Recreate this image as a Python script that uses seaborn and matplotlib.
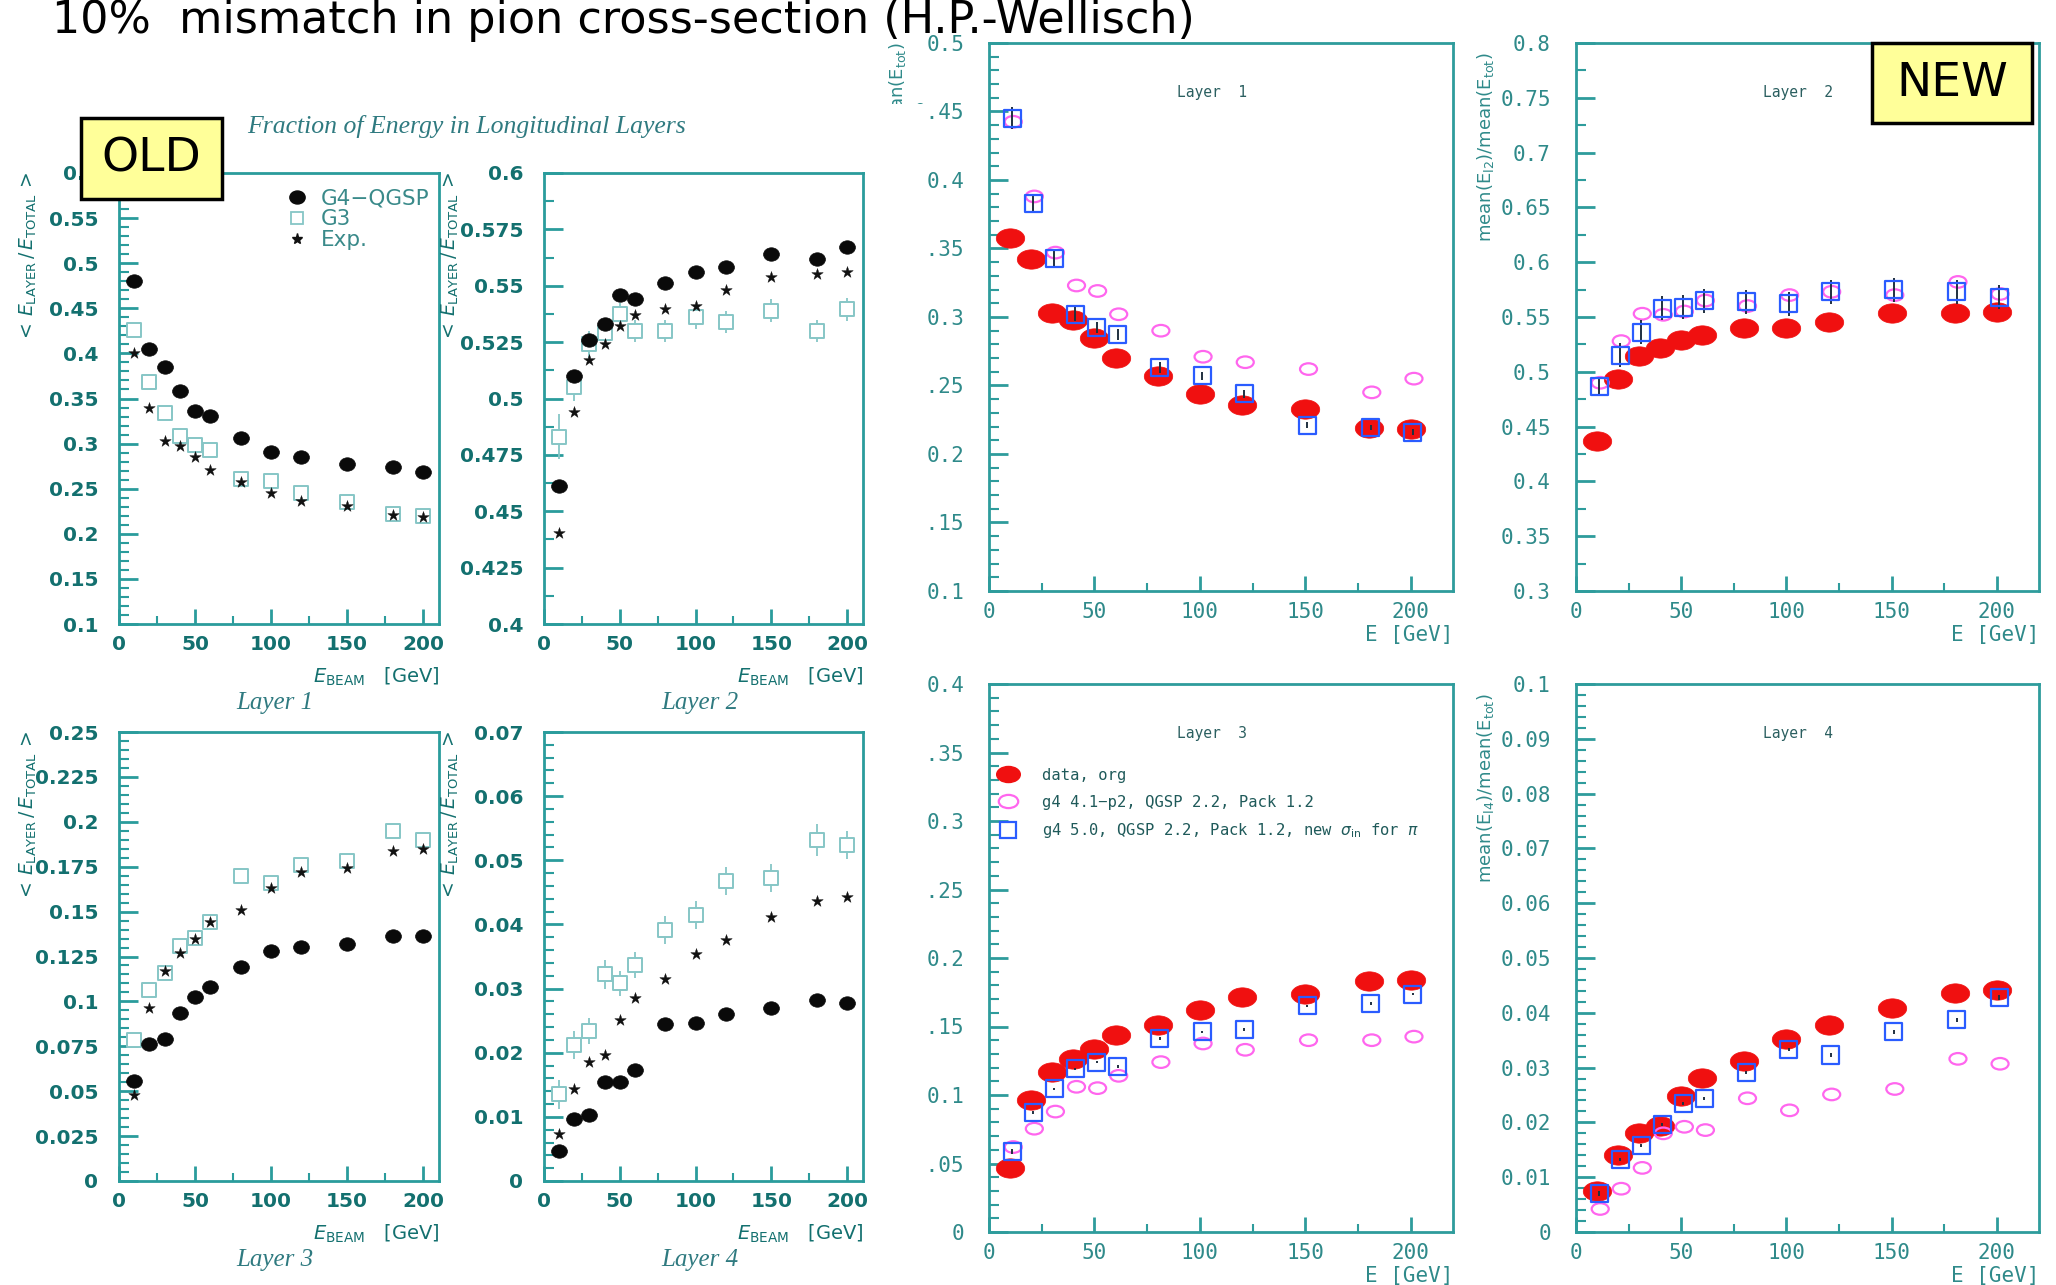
import numpy as np
import pandas as pd
import matplotlib
matplotlib.use("Agg")
import matplotlib.pyplot as plt
import seaborn as sns
from matplotlib.path import Path
from matplotlib.patches import Rectangle
from matplotlib.lines import Line2D
from matplotlib.ticker import MultipleLocator, FuncFormatter
from matplotlib.transforms import Affine2D

# ---------------- data ----------------
energy = [10, 20, 30, 40, 50, 60, 80, 100, 120, 150, 180, 200]

# OLD : fraction of energy in longitudinal layers
old_l1_g4 = [0.480, 0.405, 0.385, 0.358, 0.336, 0.331, 0.306, 0.291, 0.285, 0.277, 0.274, 0.269]
old_l1_g3 = [0.426, 0.368, 0.334, 0.308, 0.298, 0.293, 0.261, 0.258, 0.245, 0.235, 0.222, 0.220]
old_l1_exp = [0.400, 0.340, 0.303, 0.297, 0.285, 0.271, 0.257, 0.245, 0.236, 0.231, 0.221, 0.219]
old_l1_g3_err = [0.006, 0.003, 0.003, 0.003, 0.003, 0.003, 0.003, 0.003, 0.003, 0.003, 0.003, 0.003]

old_l2_g4 = [0.461, 0.510, 0.526, 0.533, 0.546, 0.544, 0.551, 0.556, 0.5585, 0.564, 0.562, 0.567]
old_l2_g3 = [0.483, 0.505, 0.524, 0.529, 0.5375, 0.530, 0.530, 0.536, 0.534, 0.539, 0.530, 0.5395]
old_l2_exp = [0.4405, 0.494, 0.517, 0.524, 0.532, 0.537, 0.5395, 0.541, 0.548, 0.554, 0.555, 0.556]
old_l2_g3_err = [0.010, 0.006, 0.006, 0.005, 0.005, 0.005, 0.005, 0.005, 0.005, 0.005, 0.005, 0.005]

old_l3_g4 = [0.0556, 0.0763, 0.0788, 0.0934, 0.1027, 0.1079, 0.1189, 0.1282, 0.1303, 0.132, 0.1365, 0.1365]
old_l3_g3 = [0.0784, 0.1064, 0.1158, 0.131, 0.1355, 0.144, 0.170, 0.166, 0.176, 0.178, 0.195, 0.190]
old_l3_exp = [0.0477, 0.0965, 0.1168, 0.127, 0.135, 0.144, 0.151, 0.163, 0.172, 0.174, 0.1836, 0.1846]
old_l3_g3_err = [0.004, 0.003, 0.003, 0.003, 0.003, 0.003, 0.003, 0.003, 0.003, 0.003, 0.003, 0.003]

old_l4_g4 = [0.00465, 0.0097, 0.0103, 0.0154, 0.0154, 0.0173, 0.0244, 0.0246, 0.0261, 0.0270, 0.0282, 0.0278]
old_l4_g3 = [0.0135, 0.0212, 0.0234, 0.0322, 0.0308, 0.0337, 0.0391, 0.0415, 0.0468, 0.0472, 0.0532, 0.0524]
old_l4_exp = [0.0074, 0.0144, 0.0185, 0.0196, 0.0251, 0.0285, 0.0315, 0.0354, 0.0376, 0.0411, 0.0436, 0.0443]
old_l4_g3_err = [0.0022, 0.0022, 0.0020, 0.0022, 0.0020, 0.0020, 0.0022, 0.0022, 0.0022, 0.0022, 0.0025, 0.0022]

old_series = ["G4\u2212QGSP", "G3", "Exp."]

# NEW : mean(E_layer)/mean(E_tot)
new_l1_data = [0.358, 0.342, 0.303, 0.298, 0.285, 0.270, 0.257, 0.244, 0.236, 0.233, 0.219, 0.218]
new_l1_g41 = [0.4425, 0.388, 0.347, 0.323, 0.319, 0.302, 0.290, 0.271, 0.267, 0.262, 0.245, 0.255]
new_l1_g50 = [0.445, 0.383, 0.343, 0.302, 0.292, 0.287, 0.263, 0.257, 0.244, 0.221, 0.2195, 0.216]
new_l1_g50_err = [0.008, 0.006, 0.006, 0.005, 0.004, 0.004, 0.004, 0.003, 0.003, 0.002, 0.002, 0.002]

new_l2_data = [0.437, 0.4935, 0.514, 0.522, 0.529, 0.534, 0.540, 0.540, 0.545, 0.554, 0.554, 0.555]
new_l2_g41 = [0.490, 0.528, 0.553, 0.552, 0.555, 0.565, 0.560, 0.570, 0.573, 0.570, 0.582, 0.571]
new_l2_g50 = [0.487, 0.515, 0.536, 0.558, 0.559, 0.565, 0.564, 0.562, 0.573, 0.575, 0.573, 0.568]
new_l2_g50_err = [0.008, 0.011, 0.011, 0.011, 0.011, 0.011, 0.011, 0.011, 0.011, 0.011, 0.011, 0.011]

new_l3_data = [0.0465, 0.0967, 0.117, 0.1266, 0.1337, 0.1435, 0.151, 0.162, 0.1716, 0.1737, 0.183, 0.184]
new_l3_g41 = [0.062, 0.0754, 0.0879, 0.106, 0.105, 0.114, 0.124, 0.1376, 0.133, 0.140, 0.140, 0.1426]
new_l3_g50 = [0.0586, 0.0873, 0.1044, 0.119, 0.124, 0.121, 0.141, 0.146, 0.148, 0.165, 0.167, 0.1737]
new_l3_g50_err = [0.002, 0.001, 0.001, 0.001, 0.001, 0.001, 0.001, 0.001, 0.001, 0.001, 0.001, 0.001]

new_l4_data = [0.0074, 0.0141, 0.0181, 0.0194, 0.0249, 0.0281, 0.0312, 0.0353, 0.0377, 0.0408, 0.0436, 0.0442]
new_l4_g41 = [0.0042, 0.0079, 0.0117, 0.0180, 0.0192, 0.0186, 0.0244, 0.0222, 0.0251, 0.0261, 0.0316, 0.0307]
new_l4_g50 = [0.0070, 0.0132, 0.0158, 0.0196, 0.0234, 0.0244, 0.0291, 0.0333, 0.0323, 0.0365, 0.0387, 0.0428]
new_l4_g50_err = [0.0005, 0.0003, 0.0003, 0.0003, 0.0003, 0.0003, 0.0003, 0.0003, 0.0003, 0.0003, 0.0004, 0.0004]

new_series = ["data, org", "g4 4.1\u2212p2, QGSP 2.2, Pack 1.2",
              "g4 5.0, QGSP 2.2, Pack 1.2, new $\\sigma_{\\rm in}$ for $\\pi$"]

title = "10%  mismatch in pion cross-section (H.P.-Wellisch)"

# ---------------- style ----------------
sns.set_theme(style="white")
plt.rcParams["font.family"] = ["DejaVu Sans"]
plt.rcParams["mathtext.fontset"] = "dejavusans"

W, H = 2056, 1285
fig = plt.figure(figsize=(W / 100, H / 100), dpi=100)
fig.patch.set_facecolor("white")

OLD_FRAME = "#2a9c9c"
OLD_TXT = "#13706f"
OLD_LIGHT = "#86c6c6"
NEW_FRAME = "#2e9c9c"
NEW_TXT = "#2f8a8a"
RED = "#f01010"
MAG = "#ff66ee"
BLUE = "#2a5cff"
MONO = ["DejaVu Sans Mono", "DejaVu Sans"]

ell = Path.unit_circle()
ellipse_marker = Path(ell.vertices * np.array([1.0, 0.68]), ell.codes)
dot_marker = ellipse_marker.transformed(Affine2D().scale(1.0, 1.25))
fmt = FuncFormatter(lambda v, p: f"{v:g}")


def px_axes(l, t, r, b, z):
    ax = fig.add_axes([l / W, 1 - b / H, (r - l) / W, (b - t) / H])
    ax.set_zorder(z)
    return ax


def style_axes(ax, xlim, ylim, ymaj, ymin, frame, txt, lsize, bold, ypad, family):
    ax.set_xlim(*xlim)
    ax.set_ylim(*ylim)
    ax.set_facecolor("white")
    for s in ax.spines.values():
        s.set_visible(True)
        s.set_color(frame)
        s.set_linewidth(2.0)
    ax.xaxis.set_major_locator(MultipleLocator(50))
    ax.xaxis.set_minor_locator(MultipleLocator(25))
    ax.yaxis.set_major_locator(MultipleLocator(ymaj))
    ax.yaxis.set_minor_locator(MultipleLocator(ymin))
    ax.xaxis.set_major_formatter(fmt)
    ax.yaxis.set_major_formatter(fmt)
    ax.tick_params(axis="both", which="both", direction="in", color=frame,
                   labelcolor=txt, top=False, right=False, left=True, bottom=True)
    ax.tick_params(axis="y", which="major", length=14, width=2, pad=ypad, labelsize=lsize)
    ax.tick_params(axis="y", which="minor", length=7, width=1.5)
    ax.tick_params(axis="x", which="major", length=11, width=2, pad=8, labelsize=lsize)
    ax.tick_params(axis="x", which="minor", length=6, width=1.5)
    ax.set_xlabel("")
    ax.set_ylabel("")
    for lab in ax.get_xticklabels() + ax.get_yticklabels():
        lab.set_family(family)
        if bold:
            lab.set_fontweight("bold")


def draw_old(ax, g4, g3, exp, g3err):
    df = pd.DataFrame({"E": energy, "g4": g4, "g3": g3, "exp": exp})
    ax.errorbar(df["E"], df["g3"], yerr=g3err, fmt="none", ecolor=OLD_LIGHT,
                elinewidth=1.3, capsize=0, zorder=2)
    sns.scatterplot(data=df, x="E", y="g3", ax=ax, marker="s", s=95, color="white",
                    edgecolor=OLD_LIGHT, linewidth=1.4, zorder=3)
    sns.scatterplot(data=df, x="E", y="exp", ax=ax, marker="*", s=75, color="#111111",
                    edgecolor="#111111", linewidth=0.3, zorder=4)
    sns.scatterplot(data=df, x="E", y="g4", ax=ax, marker=dot_marker, s=130, color="#0a0a0a",
                    edgecolor="#0a0a0a", linewidth=0.5, zorder=5)


def draw_new(ax, d, g41, g50, g50err):
    df = pd.DataFrame({"E": energy, "d": d, "g41": g41, "g50": g50})
    sns.scatterplot(data=df, x="E", y="d", ax=ax, marker=ellipse_marker, s=420,
                    color=RED, edgecolor=RED, linewidth=0.5, zorder=3)
    sns.scatterplot(x=df["E"] + 1.5, y=df["g41"], ax=ax, marker=ellipse_marker, s=150,
                    color="none", edgecolor=MAG, linewidth=1.6, zorder=4)
    ax.errorbar(df["E"] + 1, df["g50"], yerr=g50err, fmt="none", ecolor="#203040",
                elinewidth=1.4, capsize=0, zorder=5)
    sns.scatterplot(x=df["E"] + 1, y=df["g50"], ax=ax, marker="s", s=150,
                    color="none", edgecolor=BLUE, linewidth=1.6, zorder=6)


# ---------------- OLD panels ----------------
OLD_BOX = [(119, 173, 439, 624), (544, 173, 863, 624), (119, 732, 439, 1181), (544, 732, 863, 1181)]
old_data = [(old_l1_g4, old_l1_g3, old_l1_exp, old_l1_g3_err, (0.1, 0.6), 0.05, 0.01),
            (old_l2_g4, old_l2_g3, old_l2_exp, old_l2_g3_err, (0.4, 0.6), 0.025, 0.0125),
            (old_l3_g4, old_l3_g3, old_l3_exp, old_l3_g3_err, (0.0, 0.25), 0.025, 0.005),
            (old_l4_g4, old_l4_g3, old_l4_exp, old_l4_g3_err, (0.0, 0.07), 0.01, 0.002)]
old_axes = []
for i, (box, dd) in enumerate(zip(OLD_BOX, old_data)):
    ax = px_axes(*box, z=2)
    draw_old(ax, dd[0], dd[1], dd[2], dd[3])
    style_axes(ax, (0, 210.5), dd[4], dd[5], dd[6], OLD_FRAME, OLD_TXT, 14.5, True, 15,
               ["DejaVu Sans"])
    old_axes.append(ax)
    l, t, r, b = box
    fig.text((l - 91) / W if i % 2 == 0 else (l - 94) / W, 1 - (t + 84) / H,
             r"$<\,E_{\rm LAYER}\,/\,E_{\rm TOTAL}\,>$", rotation=90, ha="center",
             va="center", fontsize=13.5, color=OLD_TXT, zorder=3)
    fig.text(r / W, 1 - (b + 53) / H, r"$E_{\rm BEAM}$   [GeV]", ha="right", va="center",
             fontsize=14, color=OLD_TXT, zorder=3)
    fig.text((l + r) / 2 / W - 4 / W, 1 - (b + 79) / H, f"Layer {i + 1}", ha="center",
             va="center", fontsize=18, color="#2f7a80", style="italic",
             family=["Liberation Serif", "DejaVu Serif"], zorder=3)

# legend in OLD layer 1
h_old = [Line2D([], [], marker=dot_marker, ls="none", color="#0a0a0a", markersize=11),
         Line2D([], [], marker="s", ls="none", markerfacecolor="white", markeredgecolor=OLD_LIGHT,
                markeredgewidth=1.3, markersize=9),
         Line2D([], [], marker="*", ls="none", color="#111111", markersize=8)]
leg = old_axes[0].legend(h_old, old_series, loc="upper left", bbox_to_anchor=(0.475, 1.0),
                         frameon=False, handlelength=1.0, handletextpad=0.6, labelspacing=0.05,
                         fontsize=15.5, borderaxespad=0.3)
for t in leg.get_texts():
    t.set_color("#3a8a8a")

fig.text(467 / W, 1 - 126 / H, "Fraction of Energy in Longitudinal Layers", ha="center", va="center",
         fontsize=18.5, style="italic", color="#2f7a80", family=["Liberation Serif", "DejaVu Serif"],
         zorder=3)

# white area of the OLD picture, which hides part of the NEW left labels
fig.patches.append(Rectangle((0, 0), 926 / W, 1 - 104 / H, transform=fig.transFigure,
                             facecolor="white", edgecolor="none", zorder=1))

# ---------------- NEW panels ----------------
NEW_BOX = [(989, 43, 1453, 591), (1576, 43, 2039, 591), (989, 684, 1453, 1232), (1576, 684, 2039, 1232)]
new_data = [(new_l1_data, new_l1_g41, new_l1_g50, new_l1_g50_err, (0.1, 0.5), 0.05, 0.01),
            (new_l2_data, new_l2_g41, new_l2_g50, new_l2_g50_err, (0.3, 0.8), 0.05, 0.025),
            (new_l3_data, new_l3_g41, new_l3_g50, new_l3_g50_err, (0.0, 0.4), 0.05, 0.01),
            (new_l4_data, new_l4_g41, new_l4_g50, new_l4_g50_err, (0.0, 0.1), 0.01, 0.002)]
new_ylab = ["l1", "l2", "l3", "l4"]
new_axes = []
for i, (box, dd) in enumerate(zip(NEW_BOX, new_data)):
    ax = px_axes(*box, z=0)
    draw_new(ax, dd[0], dd[1], dd[2], dd[3])
    style_axes(ax, (0, 220), dd[4], dd[5], dd[6], NEW_FRAME, NEW_TXT, 15, False, 18, MONO)
    new_axes.append(ax)
    l, t, r, b = box
    ax.text(0.48, 0.909, f"Layer  {i + 1}", transform=ax.transAxes, ha="center", va="center",
            fontsize=10.5, color="#2b5f60", family=MONO)
    fig.text((l - 91) / W, 1 - (t + (-1 if i % 2 == 0 else 9)) / H,
             "mean(E$_{\\rm " + new_ylab[i] + "}$)/mean(E$_{\\rm tot}$)", rotation=90,
             ha="center", va="top", fontsize=13, color=NEW_TXT, zorder=0.5)
    fig.text(r / W, 1 - (b + 44) / H, "E [GeV]", ha="right", va="center", fontsize=15,
             color=NEW_TXT, family=MONO, zorder=3)

h_new = [Line2D([], [], marker=ellipse_marker, ls="none", color=RED, markersize=17),
         Line2D([], [], marker=ellipse_marker, ls="none", markerfacecolor="none", markeredgecolor=MAG,
                markeredgewidth=1.6, markersize=14),
         Line2D([], [], marker="s", ls="none", markerfacecolor="none", markeredgecolor=BLUE,
                markeredgewidth=1.6, markersize=12)]
leg2 = new_axes[2].legend(h_new, new_series, loc="upper left", bbox_to_anchor=(0.0, 0.864),
                          frameon=False, handlelength=1.2, handletextpad=1.6, labelspacing=0.75,
                          prop={"family": MONO, "size": 11.2}, borderaxespad=0.2)
for t in leg2.get_texts():
    t.set_color("#1f5a5a")

# ---------------- title and boxes ----------------
fig.text(52 / W, 1 - 33 / H, title, ha="left", va="baseline", fontsize=32, color="black", zorder=6)

for (l, t, r, b, s) in [(81, 118, 222, 199, "OLD"), (1872, 43, 2032, 123, "NEW")]:
    fig.patches.append(Rectangle((l / W, 1 - b / H), (r - l) / W, (b - t) / H, transform=fig.transFigure,
                                 facecolor="#ffff99", edgecolor="black", linewidth=2.5, zorder=7))
    fig.text((l + r) / 2 / W, 1 - (t + b) / 2 / H, s, ha="center", va="center", fontsize=34,
             color="black", zorder=8)

fig.savefig("out.png", dpi=100, facecolor="white")
